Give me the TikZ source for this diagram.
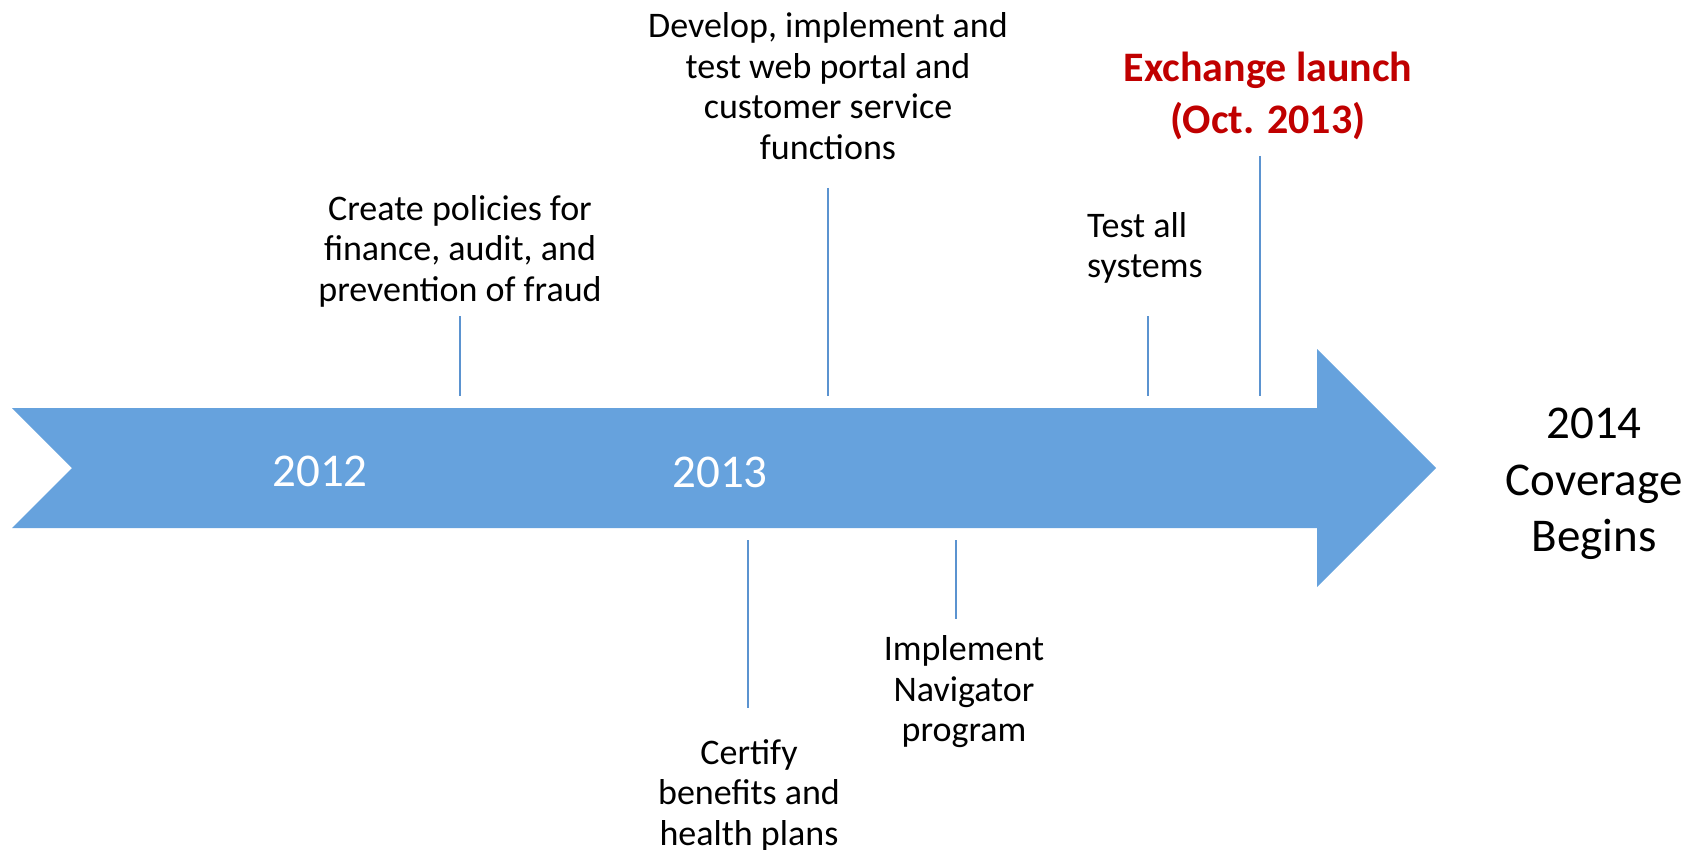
\documentclass[tikz,border=0pt]{standalone}
\usepackage{fontspec}
\setmainfont{Carlito}
\definecolor{arrowblue}{HTML}{66A2DD}
\definecolor{tickblue}{HTML}{5B93D0}
\definecolor{launchred}{HTML}{C00000}
\begin{document}
\begin{tikzpicture}[x=1pt,y=-1pt,
  lbl/.style={align=center, inner sep=0pt, font=\fontsize{36}{40.5}\selectfont},
  yearlbl/.style={text=white, inner sep=0pt, font=\fontsize{47}{56}\selectfont},
  tickline/.style={draw=tickblue, line width=2pt}]
\useasboundingbox (0,0) rectangle (1702,850);
\fill[arrowblue] (12,408) -- (1317,408) -- (1317,349) -- (1436,468) -- (1317,587)
  -- (1317,528) -- (12,528) -- (72,468) -- cycle;
% year labels
\node[yearlbl] (y2012) at (320,471) {2012};
\node[yearlbl] (y2013) at (720,472) {2013};
\node[align=center, inner sep=0pt, font=\fontsize{47}{56.5}\selectfont] (y2014) at (1594,484) {2014\\Coverage\\Begins};
% ticks
\coordinate (t1a) at (460,316); \coordinate (t1b) at (460,396);
\coordinate (t2a) at (828,188); \coordinate (t2b) at (828,396);
\coordinate (t3a) at (1148,316); \coordinate (t3b) at (1148,396);
\coordinate (t4a) at (1260,156); \coordinate (t4b) at (1260,396);
\coordinate (t5a) at (748,540); \coordinate (t5b) at (748,708);
\coordinate (t6a) at (956,540); \coordinate (t6b) at (956,619);
\draw[tickline] (t1a) -- (t1b);
\draw[tickline] (t2a) -- (t2b);
\draw[tickline] (t3a) -- (t3b);
\draw[tickline] (t4a) -- (t4b);
\draw[tickline] (t5a) -- (t5b);
\draw[tickline] (t6a) -- (t6b);
% labels
\node[lbl] (policies) at (460,251) {Create policies for\\finance, audit, and\\prevention of fraud};
\node[lbl] (develop) at (828,86) {Develop, implement and\\test web portal and\\customer service\\functions};
\node[lbl, align=left, anchor=west] (testall) at (1087,248) {Test all\\systems};
\node[align=center, inner sep=0pt, text=launchred, font=\fontsize{42}{52}\selectfont\bfseries] (launch) at (1268,96) {Exchange launch\\(Oct. 2013)};
\node[lbl] (navigator) at (964,692) {Implement\\Navigator\\program};
\node[lbl] (certify) at (749,795) {Certify\\benefits and\\health plans};
\end{tikzpicture}
\end{document}
